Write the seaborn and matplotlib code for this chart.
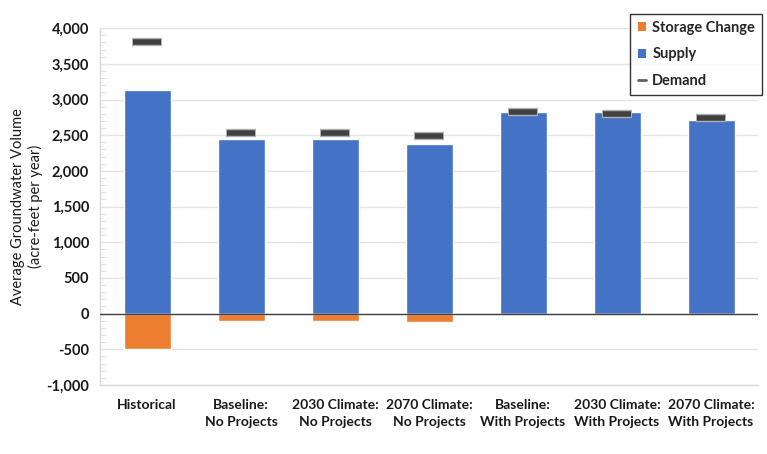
import matplotlib
matplotlib.use("Agg")
import matplotlib.pyplot as plt
from matplotlib.lines import Line2D
from matplotlib.patches import Patch
from matplotlib.ticker import MultipleLocator, FuncFormatter
import seaborn as sns
import pandas as pd

# values (acre-feet per year)
scenarios = ["Historical", "Baseline:\nNo Projects", "2030 Climate:\nNo Projects",
             "2070 Climate:\nNo Projects", "Baseline:\nWith Projects",
             "2030 Climate:\nWith Projects", "2070 Climate:\nWith Projects"]
supply = [3130, 2440, 2440, 2370, 2820, 2820, 2720]
storage_change = [-490, -100, -100, -115, 0, 0, -5]
demand = [3800, 2535, 2535, 2495, 2825, 2800, 2745]

BLUE = "#4472C4"
ORANGE = "#ED7D31"
DARK = "#404040"

df = pd.DataFrame({"scenario": scenarios, "supply": supply,
                   "storage": storage_change, "demand": demand})

sns.set_style("white")
plt.rcParams["font.family"] = ["Lato", "DejaVu Sans"]

fig = plt.figure(figsize=(7.67, 4.54), dpi=100)
ax = fig.add_axes([0.1304, 0.152, 0.858, 0.786])

sns.barplot(data=df, x="scenario", y="supply", color=BLUE, width=0.5,
            saturation=1, ax=ax, zorder=3)
sns.barplot(data=df, x="scenario", y="storage", color=ORANGE, width=0.5,
            saturation=1, ax=ax, zorder=3)

# demand dashes: light rim underneath a dark line
sns.scatterplot(data=df, x="scenario", y="demand", marker="_", s=440,
                linewidth=6, color="#b0b0b0", ax=ax, zorder=4, legend=False)
sns.scatterplot(data=df, x="scenario", y="demand", marker="_", s=380,
                linewidth=4, color=DARK, ax=ax, zorder=5, legend=False)

ax.set_xlim(-0.5, 6.5)
ax.set_ylim(-1000, 4000)
ax.yaxis.set_major_locator(MultipleLocator(500))
ax.yaxis.set_minor_locator(MultipleLocator(100))
ax.yaxis.set_major_formatter(FuncFormatter(lambda v, p: f"{int(v):,}"))
ax.grid(axis="y", which="major", color="#e4e4e4", linewidth=1, zorder=0)
ax.axhline(0, color="#404040", linewidth=1, zorder=4)

for s in ["top", "right"]:
    ax.spines[s].set_visible(False)
for s in ["left", "bottom"]:
    ax.spines[s].set_color("#d9d9d9")
    ax.spines[s].set_linewidth(1)

ax.tick_params(axis="y", which="major", length=0, pad=8, labelsize=10.5,
               labelcolor="#1a1a1a")
ax.tick_params(axis="y", which="minor", direction="in", length=4,
               color="#d9d9d9", left=True)
ax.tick_params(axis="x", length=0, pad=10, labelsize=10, labelcolor="#1a1a1a")
for lab in ax.get_yticklabels() + ax.get_xticklabels():
    lab.set_fontweight("bold")
for lab in ax.get_xticklabels():
    lab.set_linespacing(1.5)

ax.set_xlabel("")
ax.set_ylabel("Average Groundwater Volume\n(acre-feet per year)", fontsize=10.5,
              color="#1a1a1a", labelpad=2, linespacing=1.25)

handles = [Patch(facecolor=ORANGE, edgecolor="none", label="Storage Change"),
           Patch(facecolor=BLUE, edgecolor="none", label="Supply"),
           Line2D([0], [0], color="#606060", linewidth=2, label="Demand")]
leg = fig.legend(handles=handles, loc="upper right", bbox_to_anchor=(0.994, 0.97),
                 frameon=True, fancybox=False, edgecolor="black", fontsize=10.5,
                 handlelength=0.6, handleheight=0.6, handletextpad=0.4,
                 borderpad=0.5, labelspacing=0.85, borderaxespad=0)
leg.get_frame().set_linewidth(1)
for t in leg.get_texts():
    t.set_fontweight("bold")

fig.savefig("out.png", dpi=100)
